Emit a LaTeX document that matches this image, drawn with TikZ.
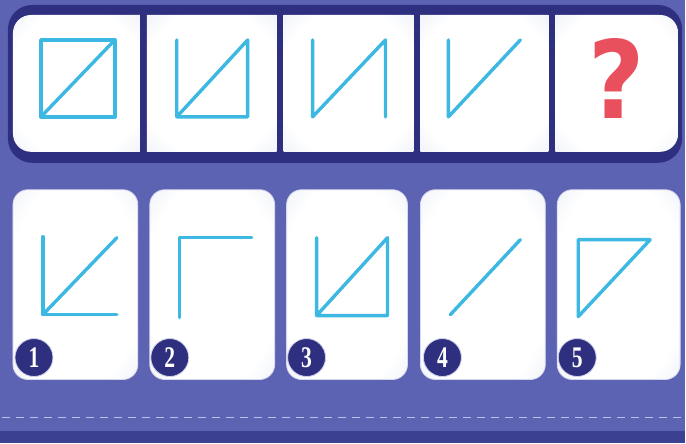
\documentclass[tikz,border=0pt]{standalone}
\usepackage{fontspec}
\usepackage{graphicx}
\setmainfont{Liberation Serif}
\newfontfamily\qmarkfont{DejaVu Sans}
\usetikzlibrary{positioning}

\definecolor{bgpurple}{HTML}{5D63B3}
\definecolor{framenavy}{HTML}{2E2F7F}
\definecolor{bandnavy}{HTML}{3B4190}
\definecolor{figblue}{HTML}{3DB8E2}
\definecolor{qred}{HTML}{E9505D}
\definecolor{edgegray}{HTML}{BFCBE3}
\definecolor{dashlilac}{HTML}{BCC0EA}
\pgfdeclareradialshading{softwhite}{\pgfpoint{0bp}{0bp}}{%
  color(0bp)=(white); color(27bp)=(white); color(40bp)=(white!65!edgegray);
  color(50bp)=(edgegray)}

\begin{document}
\begin{tikzpicture}[x=1pt, y=-1pt,
    panel/.style={shading=softwhite},
    card/.style={rounded corners=15pt, shading=softwhite,
                 draw=white!75!bgpurple, line width=0.8pt},
    fig/.style={draw=figblue, line width=3.4pt, line cap=round, line join=round},
    badge/.style={circle, fill=framenavy, draw=white!70!bgpurple, line width=0.8pt,
                  minimum size=38pt, inner sep=0pt, text=white,
                  font=\bfseries\fontsize{30}{30}\selectfont},
  ]
    % background
    \fill[bgpurple] (0,0) rectangle (686,444);
    \fill[bandnavy] (0,432) rectangle (686,444);
    \draw[dashlilac, line width=1.8pt, dash pattern=on 8pt off 6pt] (2,418) -- (686,418);
    % question strip
    \fill[framenavy, rounded corners=24pt] (8,5) rectangle (683,163);
    \begin{scope}
      \clip[rounded corners=18pt] (13,15) rectangle (679,152);
      \foreach \xa/\xb in {13/140, 147/277, 284/414, 421/549, 556/679}{
        \shade[panel] (\xa,15) rectangle (\xb,152);}
    \end{scope}
    \draw[fig] (41,40) rectangle (115,117);
    \draw[fig] (41,117) -- (115,40);
    \draw[fig] (177,40) -- (177,117) -- (248,117) -- (248,40) -- (177,117);
    \draw[fig] (313,40) -- (313,117) -- (386,40) -- (386,117);
    \draw[fig] (449,40) -- (449,117) -- (521,40);
    \node[text=qred, font=\qmarkfont\bfseries\fontsize{108}{108}\selectfont,
          inner sep=0pt, anchor=base, xscale=0.9] (qmark) at (617,119) {?};
    % answer cards
    \foreach \k/\xa/\xb in {1/13/138, 2/150/275, 3/287/408, 4/421/546, 5/558/681}{
      \shade[card] (\xa,190) rectangle (\xb,380);}
    \draw[fig] (43,237) -- (43,315) -- (117,315);
    \draw[fig] (43,315) -- (117,238);
    \draw[fig] (180,318) -- (180,238) -- (252,238);
    \draw[fig] (317,238) -- (317,316) -- (388,316) -- (388,238) -- (317,316);
    \draw[fig] (451,315) -- (521,240);
    \draw[fig] (579,317) -- (579,240) -- (651,240) -- cycle;
    \foreach \k/\x in {1/34, 2/170, 3/307, 4/443, 5/578}{
      \node[badge] (num\k) at (\x,358) {\scalebox{0.72}[1]{\k}};}
\end{tikzpicture}
\end{document}
